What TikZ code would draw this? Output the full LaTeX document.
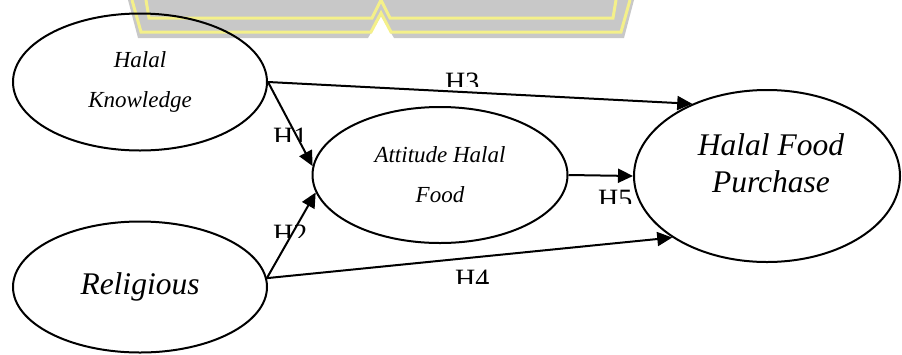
\documentclass[tikz,border=0pt]{standalone}
\usepackage{fontspec}
\setmainfont{Liberation Serif}
\usetikzlibrary{shapes.geometric,arrows.meta}
\definecolor{wmgray}{HTML}{C8C8C8}
\definecolor{wmyellow}{HTML}{F4F08A}
\tikzset{
  latent/.style={ellipse, draw, line width=2pt, inner sep=0pt, align=center},
  conn/.style={line width=2pt, -{Triangle[length=15pt,width=14pt]}},
  hyp/.style={inner sep=0pt, anchor=north west, font=\fontsize{28}{30}\selectfont},
  smalltxt/.style={font=\fontsize{23}{40}\selectfont\itshape},
  bigtxt/.style={font=\fontsize{31.5}{37}\selectfont\itshape}
}
\begin{document}
\begin{tikzpicture}[x=1pt,y=-1pt]
\useasboundingbox (0,0) rectangle (902,354);
% watermark
\fill[wmgray] (128,0) -- (138,38) -- (368,38) -- (381,16) -- (394,38) -- (624,38) -- (634,0) -- cycle;
\draw[wmyellow, line width=3pt, line join=miter] (132,0) -- (141,32) -- (371,32) -- (381,13) -- (391,32) -- (621,32) -- (630,0);
\draw[wmyellow, line width=3pt, line join=miter] (146,0) -- (149,18) -- (372,18) -- (381,0) -- (390,18) -- (613,18) -- (616,0);
% constructs
\node[latent, minimum width=254pt, minimum height=137pt, smalltxt] (hk) at (140,82) {Halal\\Knowledge};
\node[latent, minimum width=254pt, minimum height=131pt, bigtxt] (rel) at (140,287) {Religious};
\node[latent, minimum width=255pt, minimum height=136pt, smalltxt] (att) at (440,175) {Attitude Halal\\Food};
\node[latent, minimum width=266pt, minimum height=172pt] (pur) at (767,176) {};
\node[bigtxt, align=center, inner sep=0pt] (purt) at (771,163) {Halal Food\\Purchase};
% hypothesis labels (clipped as in the reference)
\begin{scope}\clip (440,70) rectangle (500,86); \node[hyp] (h3) at (445,73) {H3}; \end{scope}
\begin{scope}\clip (268,125) rectangle (330,141); \node[hyp] (h1) at (273,128) {H1}; \end{scope}
\begin{scope}\clip (593,187) rectangle (655,203); \node[hyp] (h5) at (598,190) {H5}; \end{scope}
\begin{scope}\clip (268,222) rectangle (330,237); \node[hyp] (h2) at (273,225) {H2}; \end{scope}
\begin{scope}\clip (450,267) rectangle (512,283); \node[hyp] (h4) at (455,270) {H4}; \end{scope}
% paths
\draw[conn] (hk.east) -- (pur.136);
\draw[conn] (hk.east) -- (att.176);
\draw[conn] (att.east) -- (pur.west);
\draw[conn] (rel.4) -- (att.188);
\draw[conn] (rel.4) -- (pur.-147);
\end{tikzpicture}
\end{document}
